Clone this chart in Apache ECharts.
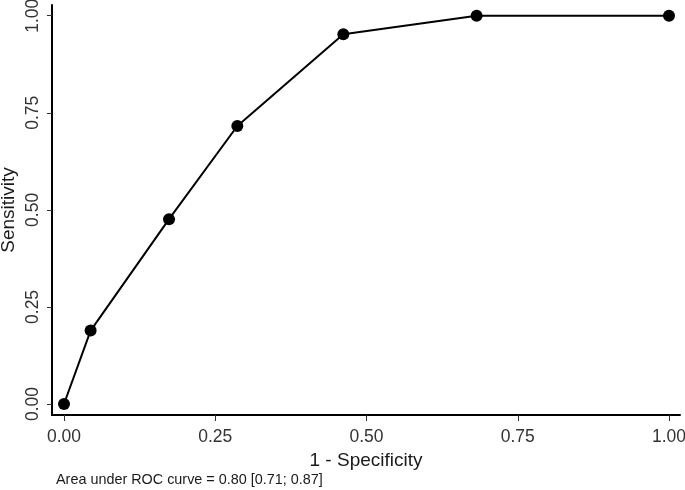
<!DOCTYPE html>
<html>
<head>
<meta charset="utf-8">
<script src="https://cdn.jsdelivr.net/npm/echarts@6/dist/echarts.min.js"></script>
<style>html,body{margin:0;padding:0;background:#fff}#c{width:685px;height:490px}</style>
</head>
<body>
<div id="c"></div>
<script>
var fpr = [0, 0.044, 0.1736, 0.2865, 0.4617, 0.682, 1.0];
var tpr = [0, 0.189, 0.476, 0.716, 0.952, 1.0, 1.0];
var tickValues = [0, 0.25, 0.5, 0.75, 1];
var tickLabels = ['0.00', '0.25', '0.50', '0.75', '1.00'];
var xTitle = '1 - Specificity';
var yTitle = 'Sensitivity';
var caption = 'Area under ROC curve = 0.80 [0.71; 0.87]';

var font = 'Liberation Sans, Arial, sans-serif';
var chart = echarts.init(document.getElementById('c'), null, {renderer: 'canvas'});
function fmt(v) {
  for (var i = 0; i < tickValues.length; i++) if (Math.abs(v - tickValues[i]) < 1e-9) return tickLabels[i];
  return '';
}
var data = fpr.map(function (x, i) { return [x, tpr[i]]; });
chart.setOption({
  animation: false,
  backgroundColor: '#ffffff',
  grid: {left: 52, right: 5, top: 5, bottom: 75, containLabel: false, outerBoundsMode: 'none'},
  xAxis: {
    type: 'value', min: -12 / 605, max: 616 / 605,
    name: xTitle, nameLocation: 'middle', nameGap: 33,
    nameTextStyle: {fontFamily: font, fontSize: 19, color: '#1a1a1a'},
    axisLine: {show: true, onZero: false, lineStyle: {color: '#000', width: 2}},
    axisTick: {show: true, length: 6, customValues: tickValues, lineStyle: {color: '#333', width: 1}},
    axisLabel: {customValues: tickValues, formatter: fmt, margin: 13, fontFamily: font, fontSize: 17.5, color: '#333'},
    splitLine: {show: false}
  },
  yAxis: {
    type: 'value', min: -11 / 388.3, max: 1 + 10.7 / 388.3,
    axisLine: {show: true, onZero: false, lineStyle: {color: '#000', width: 2}},
    axisTick: {show: true, length: 5, customValues: tickValues, lineStyle: {color: '#333', width: 1}},
    axisLabel: {customValues: tickValues, formatter: fmt, rotate: 90, margin: 10, fontFamily: font, fontSize: 17.5, color: '#333'},
    splitLine: {show: false}
  },
  series: [{
    type: 'line', data: data,
    symbol: 'circle', symbolSize: 12,
    lineStyle: {color: '#000', width: 2},
    itemStyle: {color: '#000'},
    z: 3
  }],
  graphic: [{
    type: 'text', x: 9, y: 210, rotation: Math.PI / 2,
    style: {text: yTitle, fontFamily: font, fontSize: 19, fill: '#1a1a1a', align: 'center', verticalAlign: 'middle'}
  }, {
    type: 'text', left: 56, top: 473,
    style: {text: caption, fontFamily: font, fontSize: 14.4, fill: '#1a1a1a'}
  }]
});
</script>
</body>
</html>
